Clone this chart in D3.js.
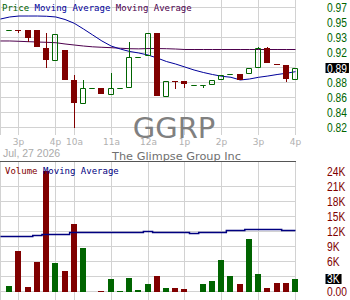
<!DOCTYPE html>
<html>
<head>
<meta charset="utf-8">
<script src="https://cdn.jsdelivr.net/npm/d3@7"></script>
<style>
body { margin: 0; background: #fff; }
svg { display: block; }
</style>
</head>
<body>
<div id="chart-area"></div>
<script>
/*
*    GGRP intraday, 15 min bars (bar index 1..32)
*/
var opens  = [0.9435, 0.9436, 0.9435, 0.9435, 0.9210, 0.9046, 0.9182, 0.8802, 0.8498, 0.8697, 0.8697, 0.8612, 0.8697, 0.8697, 0.9097, 0.9106,
              0.9393, 0.8590, 0.8790, 0.8789, 0.8735, 0.8735, 0.8735, 0.8802, 0.8878, 0.8878, 0.8878, 0.8950, 0.9203, 0.9005, 0.8992, 0.8802];
var highs  = [0.9435, 0.9436, 0.9435, 0.9435, 0.9393, 0.9384, 0.9182, 0.8865, 0.8802, 0.8697, 0.8697, 0.8894, 0.8697, 0.9287, 0.9097, 0.9393,
              0.9393, 0.8789, 0.8790, 0.8789, 0.8735, 0.8735, 0.8802, 0.8869, 0.8878, 0.8878, 0.8950, 0.9224, 0.9224, 0.9005, 0.8992, 0.8950];
var lows   = [0.9435, 0.9397, 0.9287, 0.9216, 0.8950, 0.9046, 0.8802, 0.8194, 0.8498, 0.8697, 0.8620, 0.8612, 0.8697, 0.8697, 0.9097, 0.9106,
              0.8603, 0.8590, 0.8684, 0.8697, 0.8735, 0.8697, 0.8735, 0.8802, 0.8878, 0.8802, 0.8878, 0.8950, 0.9013, 0.9004, 0.8780, 0.8802];
var closes = [0.9435, 0.9435, 0.9330, 0.9216, 0.9055, 0.9384, 0.8802, 0.8507, 0.8697, 0.8697, 0.8620, 0.8697, 0.8697, 0.9097, 0.9097, 0.9393,
              0.8603, 0.8789, 0.8789, 0.8747, 0.8735, 0.8735, 0.8802, 0.8869, 0.8878, 0.8802, 0.8950, 0.9203, 0.9013, 0.9004, 0.8811, 0.8950];
var volumes = [1140, 8140, 940, 5940, 24200, 5740, 4140, 13540, 8740, 0, 150, 2540, 200, 2740, 340, 1540,
               3200, 740, 740, 540, 0, 1540, 2140, 6340, 3140, 1540, 10540, 3540, 740, 1740, 1740, 2540];

// moving averages, bar index 0..32
var maFast = [0.9574, 0.9600, 0.9612, 0.9612, 0.9612, 0.9609, 0.9600, 0.9568, 0.9520, 0.9448, 0.9372, 0.9296, 0.9232, 0.9194, 0.9163, 0.9144, 0.9118,
              0.9080, 0.9036, 0.9004, 0.8966, 0.8928, 0.8897, 0.8871, 0.8849, 0.8836, 0.8802, 0.8814, 0.8836, 0.8852, 0.8871, 0.8887, 0.8907];
var maSlow = [0.9296, 0.9296, 0.9292, 0.9287, 0.9283, 0.9279, 0.9274, 0.9258, 0.9245, 0.9232, 0.9222, 0.9216, 0.9211, 0.9204, 0.9198, 0.9196, 0.9200,
              0.9200, 0.9198, 0.9194, 0.9188, 0.9188, 0.9188, 0.9188, 0.9188, 0.9188, 0.9188, 0.9188, 0.9188, 0.9188, 0.9188, 0.9188, 0.9188];
var volMa  = [11000, 11000, 11000, 11000, 11200, 11480, 11480, 11480, 11800, 11800, 11800, 11800, 11800, 11800, 11800, 11800, 12080,
              11880, 11880, 11880, 11880, 11680, 11880, 11880, 11880, 12140, 12140, 12340, 12340, 12340, 12340, 12140, 12140];

var timeLabels = ["3p", "4p", "10a", "11a", "12a", "1p", "2p", "3p", "4p"];
var timeIdx    = [2, 6, 8, 12, 16, 20, 24, 28, 32];
var priceTicks = [0.972, 0.953, 0.934, 0.915, 0.896, 0.877, 0.858, 0.839, 0.82];
var volTicks   = [24000, 21000, 18000, 15000, 12000, 9000, 6000, 3000, 0];

var RED = "#800000", GREEN = "#006400", GRID = "#d2d2d2";

var svg = d3.select("#chart-area").append("svg")
		.attr("width", 350)
		.attr("height", 300);

var x  = d3.scaleLinear().domain([0, 32]).range([0.5, 295.5]);
var y  = d3.scaleLinear().domain([0.82, 0.972]).range([127.5, 7.5]);
var yv = d3.scaleLinear().domain([0, 24000]).range([291.5, 171.5]);
var col = (i) => Math.floor(x(i)) + 0.5;

// grid
var grid = svg.append("g").attr("stroke", GRID).attr("stroke-width", 1);
grid.selectAll(".vp").data([0].concat(timeIdx)).enter().append("line")
	.attr("x1", col).attr("x2", col).attr("y1", 0).attr("y2", 135);
grid.selectAll(".vv").data([0].concat(timeIdx)).enter().append("line")
	.attr("x1", col).attr("x2", col).attr("y1", 162).attr("y2", 300);
grid.selectAll(".hp").data(priceTicks).enter().append("line")
	.attr("x1", 0).attr("x2", 296)
	.attr("y1", (d) => Math.floor(y(d)) + 0.5).attr("y2", (d) => Math.floor(y(d)) + 0.5);
grid.selectAll(".hv").data(volTicks.filter((d) => d < 24000)).enter().append("line")
	.attr("x1", 0).attr("x2", 296)
	.attr("y1", (d) => Math.floor(yv(d)) + 0.5).attr("y2", (d) => Math.floor(yv(d)) + 0.5);

// watermark texts
svg.append("text")
	.attr("x", 174).attr("y", 138)
	.attr("text-anchor", "middle")
	.attr("font-family", "DejaVu Sans")
	.attr("font-size", 29)
	.attr("fill", "#808080")
	.text("GGRP");

svg.selectAll(".tl").data(timeLabels).enter().append("text")
	.attr("x", (d, i) => col(timeIdx[i]))
	.attr("y", 145)
	.attr("text-anchor", "middle")
	.attr("font-family", "DejaVu Sans")
	.attr("font-size", 9)
	.attr("fill", "#b0b0b0")
	.text((d) => d);

svg.append("text")
	.attr("x", 3).attr("y", 157)
	.attr("font-family", "Liberation Sans")
	.attr("font-size", 10.5)
	.attr("fill", "#aaaaaa")
	.text("Jul, 27 2026");

svg.append("text")
	.attr("x", 176.5).attr("y", 160)
	.attr("text-anchor", "middle")
	.attr("font-family", "DejaVu Sans")
	.attr("font-size", 11.3)
	.attr("fill", "#707070")
	.text("The Glimpse Group Inc");

svg.append("line")
	.attr("x1", 0).attr("x2", 296).attr("y1", 161.5).attr("y2", 161.5)
	.attr("stroke", "#555").attr("stroke-width", 1);

// moving averages
var priceLine = d3.line().x((d, i) => x(i)).y((d) => y(d));
svg.append("path").attr("d", priceLine(maSlow))
	.attr("fill", "none").attr("stroke", "#4d004d").attr("stroke-width", 1);
svg.append("path").attr("d", priceLine(maFast))
	.attr("fill", "none").attr("stroke", "#00009a").attr("stroke-width", 1);

// candles
var candles = svg.append("g");
closes.forEach((c, k) => {
	var i = k + 1, o = opens[k], h = highs[k], l = lows[k];
	var cx = col(i);
	var top = Math.round(y(Math.max(o, c))), bot = Math.round(y(Math.min(o, c)));
	if (c < o) {
		candles.append("line")
			.attr("x1", cx).attr("x2", cx)
			.attr("y1", Math.round(y(h))).attr("y2", Math.round(y(l)))
			.attr("stroke", RED);
		candles.append("rect")
			.attr("x", cx - 3.5).attr("y", top)
			.attr("width", 6).attr("height", Math.max(1, bot - top))
			.attr("fill", RED);
	} else {
		candles.append("line")
			.attr("x1", cx).attr("x2", cx)
			.attr("y1", Math.round(y(h))).attr("y2", top)
			.attr("stroke", GREEN);
		candles.append("line")
			.attr("x1", cx).attr("x2", cx)
			.attr("y1", bot).attr("y2", Math.round(y(l)))
			.attr("stroke", GREEN);
		var t = top + 0.5, b = Math.max(top + 0.5, bot - 0.5);
		candles.append("path")
			.attr("d", "M" + (cx - 3) + "," + t + "H" + (cx + 2) + "V" + b + "H" + (cx - 3) + "Z")
			.attr("fill", "none").attr("stroke", GREEN).attr("stroke-width", 1);
	}
});

// volume bars
svg.selectAll(".vol").data(volumes).enter().append("rect")
	.attr("x", (d, k) => col(k + 1) - 3.5)
	.attr("y", (d) => Math.round(yv(d)))
	.attr("width", 6)
	.attr("height", (d) => Math.round(yv(0)) - Math.round(yv(d)))
	.attr("fill", (d, k) => closes[k] < opens[k] ? RED : GREEN);

var volLine = d3.line().x((d, i) => x(i)).y((d) => Math.floor(yv(d)) + 0.5).curve(d3.curveStep);
svg.append("path").attr("d", volLine(volMa))
	.attr("fill", "none").attr("stroke", "#000080").attr("stroke-width", 1.5);

// legends
var leg = svg.append("text")
	.attr("x", 2).attr("y", 10.5)
	.attr("font-family", "DejaVu Sans Mono")
	.attr("font-size", 9)
	.attr("xml:space", "preserve");
leg.append("tspan").attr("fill", GREEN).text("Price");
leg.append("tspan").attr("fill", "#00009a").text(" Moving Average");
leg.append("tspan").attr("fill", "#4d004d").text(" Moving Average");

var vleg = svg.append("text")
	.attr("x", 5).attr("y", 174)
	.attr("font-family", "DejaVu Sans Mono")
	.attr("font-size", 9)
	.attr("xml:space", "preserve");
vleg.append("tspan").attr("fill", RED).text("Volume");
vleg.append("tspan").attr("fill", "#000080").text(" Moving Average");

// right axes (narrow digits: Liberation Sans squeezed horizontally)
var lastClose = closes[closes.length - 1];
var lastVol = volumes[volumes.length - 1];

function axisLabel(yy, label, color) {
	var g = svg.append("g")
		.attr("transform", "translate(327," + (yy + 4.5) + ") scale(0.82,1)");
	return g.append("text")
		.attr("x", 0).attr("y", 0)
		.attr("font-family", "Liberation Sans")
		.attr("font-size", 12.5)
		.attr("fill", color)
		.text(label);
}

priceTicks.filter((d) => Math.abs(y(d) - y(lastClose)) > 6).forEach((d) => {
	axisLabel(y(d), d3.format(".2f")(d), GREEN);
});
volTicks.filter((d) => Math.abs(yv(d) - yv(lastVol)) > 6).forEach((d) => {
	axisLabel(yv(d), d === 0 ? "0.00" : (d / 1000) + "K", RED);
});

function tag(yy, label) {
	var r = svg.append("rect").attr("fill", "#000");
	var t = axisLabel(yy, label, "#fff");
	var w = t.node().getComputedTextLength() * 0.82;
	r.attr("x", 325.5).attr("y", Math.round(yy) - 5)
		.attr("width", w + 3.5).attr("height", 10);
}
tag(y(lastClose), (Math.floor(lastClose * 100) / 100).toFixed(2));
tag(yv(lastVol), Math.round(lastVol / 1000) + "K");
</script>
</body>
</html>
